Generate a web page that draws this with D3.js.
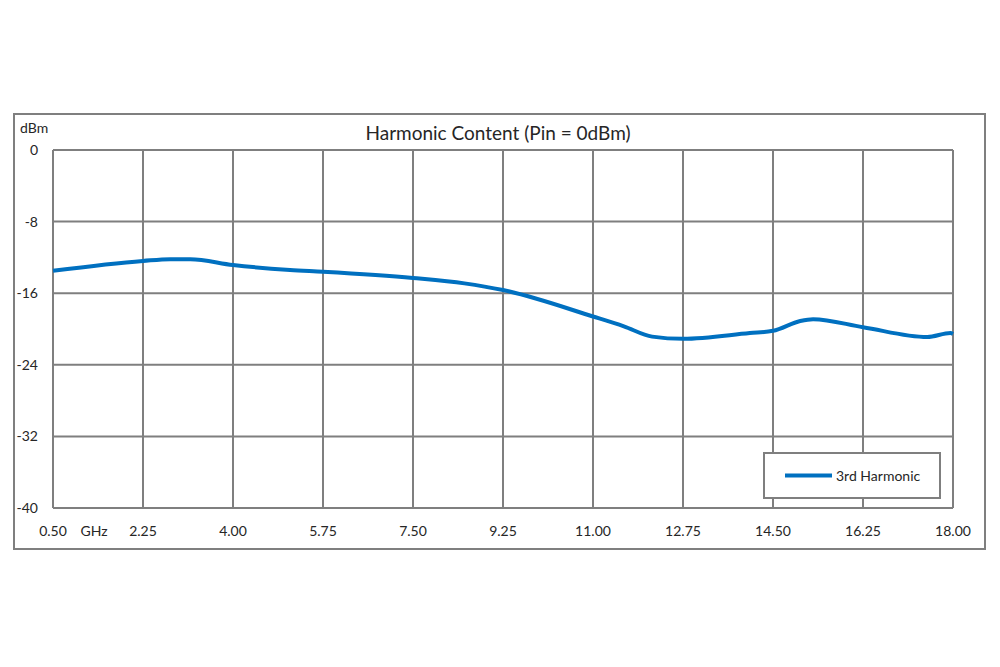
<!DOCTYPE html>
<html><head><meta charset="utf-8">
<script src="https://cdn.jsdelivr.net/npm/d3@7"></script>
<style>body{margin:0;background:#fff;} svg{display:block;} text{font-family:Lato,"Open Sans",sans-serif;fill:#262626;}</style>
</head><body><svg id="c" width="1000" height="667"></svg>
<script>
const xTicks = [0.5, 2.25, 4.0, 5.75, 7.5, 9.25, 11.0, 12.75, 14.5, 16.25, 18.0];
const yTicks = [0, -8, -16, -24, -32, -40];
const freq = [0.5, 2.25, 2.78, 3.17, 4.0, 5.11, 5.75, 7.5, 8.5, 9.25, 11.0, 11.6, 12.15, 12.75, 14.05, 14.5, 15.03, 15.28, 16.25, 17.5, 17.95, 18.0];
const harm3 = [-13.5, -12.4, -12.2, -12.2, -12.85, -13.4, -13.6, -14.3, -14.9, -15.65, -18.6, -19.7, -20.85, -21.1, -20.45, -20.2, -19.1, -18.9, -19.8, -20.9, -20.45, -20.55];
const seriesName = "3rd Harmonic";
const title = "Harmonic Content (Pin = 0dBm)";

const svg = d3.select("#c");
const L = 53, R = 953, T = 150, B = 508;
const x = d3.scaleLinear().domain([0.5, 18]).range([L, R]);
const y = d3.scaleLinear().domain([-40, 0]).range([B, T]);
const grey = "#7f7f7f";

svg.append("rect").attr("x", 14).attr("y", 114).attr("width", 971).attr("height", 435)
  .attr("fill", "#fff").attr("stroke", grey).attr("stroke-width", 2);

const g = svg.append("g");
g.selectAll(".vx").data(xTicks).join("line")
  .attr("x1", d => x(d)).attr("x2", d => x(d)).attr("y1", T).attr("y2", B)
  .attr("stroke", grey).attr("stroke-width", 2);
g.selectAll(".hy").data(yTicks).join("line")
  .attr("x1", L).attr("x2", R).attr("y1", d => y(d)).attr("y2", d => y(d))
  .attr("stroke", grey).attr("stroke-width", 2);

svg.selectAll(".yl").data(yTicks).join("text")
  .attr("x", 38).attr("y", d => y(d) + 5).attr("text-anchor", "end")
  .attr("font-size", 14).text(d => d);
svg.append("text").attr("x", 20).attr("y", 133).attr("font-size", 14).text("dBm");

svg.selectAll(".xl").data(xTicks).join("text")
  .attr("x", d => x(d)).attr("y", 536).attr("text-anchor", "middle")
  .attr("font-size", 14).text(d => d.toFixed(2));
svg.append("text").attr("x", 94).attr("y", 536).attr("text-anchor", "middle").attr("font-size", 14).text("GHz");

svg.append("text").attr("x", 498).attr("y", 140).attr("text-anchor", "middle")
  .attr("font-size", 19).text(title);

const data = freq.map((f, i) => [f, harm3[i]]);
svg.append("path").datum(data)
  .attr("d", d3.line().x(d => x(d[0])).y(d => y(d[1])).curve(d3.curveMonotoneX))
  .attr("fill", "none").attr("stroke", "#0070C0").attr("stroke-width", 4);

svg.append("rect").attr("x", 764).attr("y", 453).attr("width", 176).attr("height", 45)
  .attr("fill", "#fff").attr("stroke", grey).attr("stroke-width", 2);
svg.append("line").attr("x1", 785).attr("x2", 832).attr("y1", 475.5).attr("y2", 475.5)
  .attr("stroke", "#0070C0").attr("stroke-width", 4);
svg.append("text").attr("x", 836).attr("y", 480.5).attr("font-size", 14).text(seriesName);
</script></body></html>
